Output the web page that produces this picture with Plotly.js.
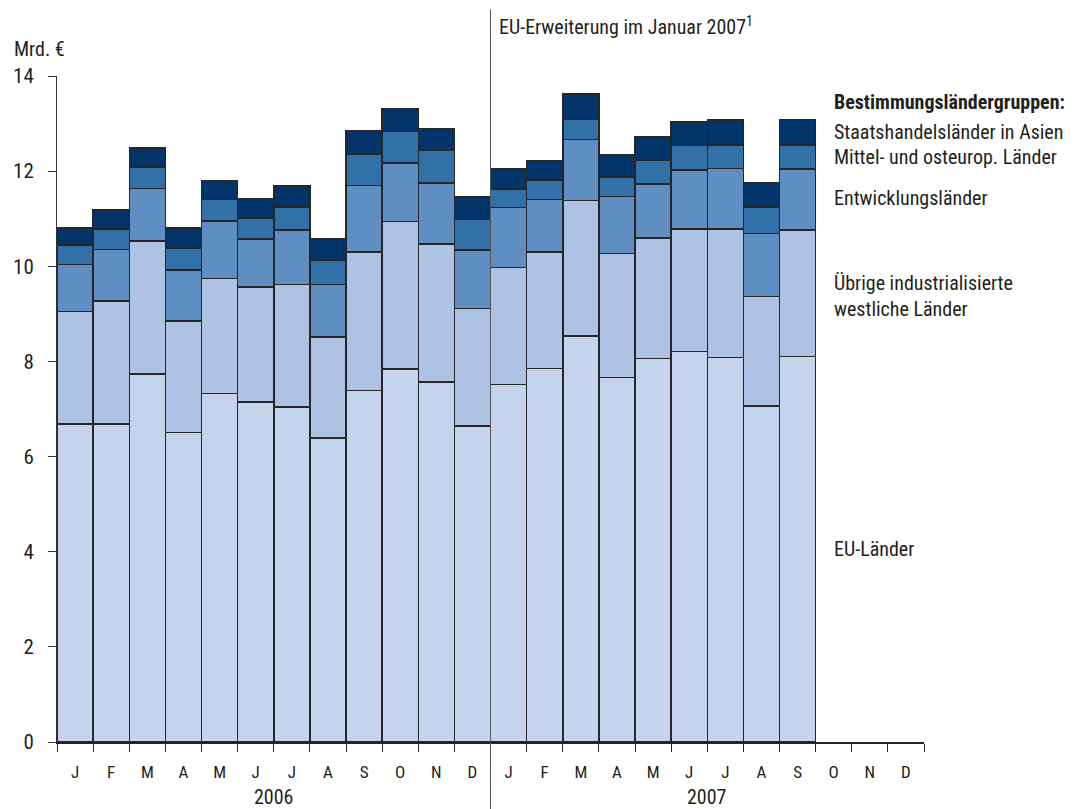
<!DOCTYPE html>
<html>
<head>
<meta charset="utf-8">
<script src="https://cdn.plot.ly/plotly-3.0.1.min.js"></script>
<style>html,body{margin:0;padding:0;background:#fff;}#chart{width:1077px;height:809px;}</style>
</head>
<body>
<div id="chart"></div>
<script>
const months = ['J','F','M','A','M','J','J','A','S','O','N','D','J','F','M','A','M','J','J','A','S','O','N','D'];
const years = ['2006','2007'];
// Values in Mrd. €, Jan 2006 – Sep 2007
const euLaender     = [6.69,6.69,7.74,6.51,7.33,7.15,7.04,6.39,7.39,7.84,7.57,6.64, 7.52,7.85,8.53,7.66,8.06,8.21,8.08,7.06,8.10];
const uebrigeWest   = [2.36,2.58,2.79,2.34,2.41,2.41,2.58,2.12,2.91,3.10,2.90,2.47, 2.45,2.45,2.85,2.61,2.53,2.57,2.70,2.30,2.66];
const entwicklung   = [0.99,1.08,1.11,1.07,1.21,1.01,1.14,1.11,1.40,1.23,1.28,1.23, 1.27,1.10,1.29,1.20,1.14,1.24,1.28,1.33,1.28];
const mittelOsteur  = [0.41,0.43,0.45,0.45,0.45,0.43,0.49,0.50,0.65,0.66,0.68,0.64, 0.38,0.41,0.42,0.41,0.49,0.52,0.49,0.56,0.51];
const staatshandel  = [0.35,0.40,0.40,0.43,0.40,0.43,0.44,0.45,0.50,0.49,0.47,0.48, 0.42,0.41,0.53,0.47,0.50,0.49,0.52,0.51,0.54];

const series = [
  {name:'EU-Länder', y:euLaender, color:'#c5d3ec'},
  {name:'Übrige industrialisierte westliche Länder', y:uebrigeWest, color:'#aec3e3'},
  {name:'Entwicklungsländer', y:entwicklung, color:'#5e8ec2'},
  {name:'Mittel- und osteurop. Länder', y:mittelOsteur, color:'#3270a8'},
  {name:'Staatshandelsländer in Asien', y:staatshandel, color:'#03356a'}
];
const FONT = 'Liberation Sans Narrow, Roboto Condensed, Arial Narrow, Liberation Sans, sans-serif';
const xs = euLaender.map((_, i) => i);
const traces = series.map(s => ({
  type:'bar', x:xs, y:s.y, name:s.name,
  marker:{color:s.color, line:{color:'#262626', width:1.5}},
  hoverinfo:'y+name'
}));

const legendTexts = [
  {t:'<b>Bestimmungsländergruppen:</b>', y:13.45},
  {t:'Staatshandelsländer in Asien', y:12.83},
  {t:'Mittel- und osteurop. Länder', y:12.30},
  {t:'Entwicklungsländer', y:11.44},
  {t:'Übrige industrialisierte<br>westliche Länder', y:9.38},
  {t:'EU-Länder', y:4.05}
];
const annotations = legendTexts.map(l => ({
  xref:'paper', yref:'y', x:0.894, y:l.y, xanchor:'left', yanchor:'middle',
  text:l.t, showarrow:false, align:'left', font:{family:FONT, size:20, color:'#231f20'}
}));
annotations.push({xref:'paper', yref:'paper', x:-0.052, y:1.04, xanchor:'left', yanchor:'middle',
  text:'Mrd. €', showarrow:false, font:{family:FONT, size:20, color:'#231f20'}});
annotations.push({xref:'x', yref:'paper', x:11.5, y:1.075, xanchor:'left', yanchor:'middle', xshift:6,
  text:'EU-Erweiterung im Januar 2007<sup>1</sup>', showarrow:false, font:{family:FONT, size:20, color:'#231f20'}});
years.forEach((yr, i) => annotations.push({xref:'x', yref:'paper', x:5.5 + 12*i, y:-0.083, xanchor:'center', yanchor:'middle',
  text:yr, showarrow:false, font:{family:FONT, size:20, color:'#231f20'}}));

const layout = {
  width:1077, height:809,
  margin:{l:57, r:153, t:76, b:67},
  paper_bgcolor:'#fff', plot_bgcolor:'#fff',
  barmode:'stack', bargap:0, showlegend:false,
  font:{family:FONT, color:'#231f20'},
  xaxis:{range:[-0.5,23.5], tickmode:'array', tickvals:months.map((_, i) => i), ticktext:months,
    ticks:'', showgrid:false, zeroline:false, showline:true, linecolor:'#262626', linewidth:2,
    tickfont:{family:FONT, size:17, color:'#231f20'}, ticklabelstandoff:14,
    minor:{tick0:-0.5, dtick:1, ticks:'outside', ticklen:8, tickcolor:'#262626', tickwidth:1, showgrid:false}},
  yaxis:{range:[0,14], dtick:2, ticks:'outside', ticklen:8, tickcolor:'#333', tickwidth:1,
    showgrid:false, zeroline:false, showline:true, linecolor:'#333', linewidth:1,
    tickfont:{family:FONT, size:21, color:'#231f20'}, ticklabelstandoff:10},
  shapes:[{type:'line', xref:'x', yref:'paper', x0:11.5, x1:11.5, y0:-0.105, y1:1.1,
    line:{color:'#555', width:1}}],
  annotations:annotations
};
Plotly.newPlot('chart', traces, layout, {displayModeBar:false, staticPlot:true});
</script>
</body>
</html>
